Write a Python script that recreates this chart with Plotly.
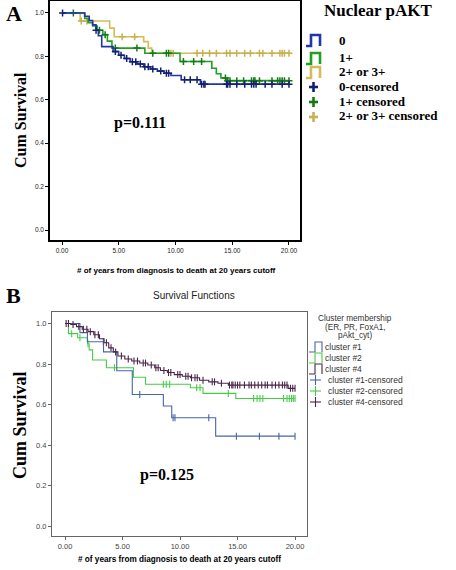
import numpy as np
import plotly.graph_objects as go

W, H = 456, 570

# ---------------- Panel A data: Nuclear pAKT ----------------
a_names = ["0", "1+", "2+ or 3+"]
a_colors = ["#2236A8", "#22A022", "#D2BC5C"]
a_mark_colors = ["#14206E", "#137A13", "#C8B050"]

a0_t = [0, 2.0, 2.4, 2.7, 3.0, 3.2, 3.5, 4.5, 5.0, 5.5, 6.0, 6.6, 7.2, 7.8, 8.4, 9.0, 9.6, 10.5, 12.2]
a0_s = [1.0, 0.985, 0.965, 0.945, 0.92, 0.895, 0.845, 0.822, 0.805, 0.79, 0.775, 0.765, 0.752,
        0.742, 0.732, 0.722, 0.712, 0.692, 0.672]
a0_c = [0.05, 3.0, 4.7, 5.2, 5.7, 6.2, 6.5, 6.9, 7.3, 7.6, 8.0, 8.7, 9.2, 9.4, 10.8, 11.3, 11.9,
        12.3, 12.5, 12.6, 14.5, 14.6, 14.8, 15.4, 16.1, 16.7, 16.9, 17.1, 17.9, 18.5, 19.4, 20.0]

a1_t = [0, 2.0, 2.3, 2.7, 3.1, 3.6, 4.0, 4.4, 7.3, 10.4, 13.2, 13.6, 14.0, 14.5]
a1_s = [1.0, 0.975, 0.955, 0.94, 0.92, 0.9, 0.87, 0.838, 0.814, 0.776, 0.745, 0.72, 0.7, 0.688]
a1_c = [1.0, 3.3, 3.8, 4.7, 6.6, 8.0, 9.2, 9.4, 10.7, 11.6, 12.3, 14.4, 14.6, 14.8, 15.4, 16.0,
        16.7, 16.9, 17.0, 17.4, 18.5, 19.0, 19.2, 19.4, 19.6, 20.0]

a2_t = [0, 1.6, 4.2, 4.6, 7.2, 7.6, 7.9]
a2_s = [1.0, 0.963, 0.93, 0.89, 0.868, 0.838, 0.814]
a2_c = [1.7, 2.2, 5.3, 6.4, 9.6, 9.8, 11.9, 12.4, 13.0, 13.6, 14.5, 14.8, 15.4, 16.1, 16.6,
        17.4, 17.7, 18.5, 19.2, 19.4, 19.6, 20.0]

# ---------------- Panel B data: Cluster membership ----------------
b_names = ["cluster #1", "cluster #2", "cluster #4"]
b_colors = ["#4A64A6", "#44CC44", "#4A2548"]

b1_t = [0, 1.3, 1.95, 3.35, 4.5, 5.85, 8.55, 9.28, 13.1]
b1_s = [1.0, 0.955, 0.91, 0.86, 0.767, 0.65, 0.593, 0.535, 0.444]
b1_c = [3.33, 6.5, 9.4, 9.56, 12.5, 14.9, 16.9, 18.6, 20.0]

b2_t = [0, 0.3, 1.1, 1.95, 2.1, 2.4, 3.6, 5.95, 7.0, 10.9, 12.0, 14.85]
b2_s = [1.0, 0.95, 0.93, 0.9, 0.87, 0.82, 0.782, 0.735, 0.70, 0.683, 0.655, 0.63]
b2_c = [0.58, 1.3, 2.0, 4.3, 8.55, 8.8, 9.1, 11.45, 11.74, 14.2, 16.4, 16.7, 16.95, 17.2,
        19.0, 19.3, 19.5, 19.7, 19.85, 20.0]

b4_t = [0, 0.5, 1.0, 1.5, 2.0, 2.5, 3.0, 3.4, 3.8, 4.2, 4.6, 5.2, 5.8, 6.5, 7.2, 7.8, 8.3, 8.9,
        9.5, 10.2, 10.9, 11.7, 12.5, 13.3, 14.2, 19.4]
b4_s = [1.0, 0.995, 0.985, 0.972, 0.96, 0.945, 0.925, 0.905, 0.88, 0.86, 0.84, 0.825, 0.815,
        0.805, 0.795, 0.782, 0.768, 0.758, 0.748, 0.74, 0.732, 0.72, 0.712, 0.705, 0.696, 0.68]
b4_c = [0.1, 0.3, 0.7, 1.2, 1.6, 1.9, 2.2, 2.6, 2.9, 3.6, 4.0, 4.4, 4.9, 5.5, 6.0, 6.3, 6.8,
        7.0, 7.5, 7.9, 8.1, 8.6, 9.0, 9.2, 9.8, 10.0, 10.5, 10.7, 11.0, 11.3, 11.5, 12.0, 12.8,
        13.0, 13.6, 14.3, 14.5, 14.6, 14.8, 15.0, 15.2, 15.6, 16.0, 16.2, 16.5, 16.8, 17.1, 17.4,
        17.6, 18.0, 18.3, 18.6, 18.9, 19.1, 19.3, 19.6, 19.8, 20.0]

x_ticks = [0, 5, 10, 15, 20]
x_tick_labels = ["0.00", "5.00", "10.00", "15.00", "20.00"]
y_ticks = [0.0, 0.2, 0.4, 0.6, 0.8, 1.0]
y_tick_labels = ["0.0", "0.2", "0.4", "0.6", "0.8", "1.0"]


def step_value(t, s, c):
    idx = np.searchsorted(np.asarray(t), np.asarray(c), side="right") - 1
    return np.asarray(s)[idx]


def px(x):
    return x / W


def py(y):
    return 1 - y / H


fig = go.Figure()


def add_km(t, s, c, color, mcolor, xa, ya, lw, msym, msize, mlw):
    end = max(max(c), max(t))
    xs = list(t) + [end]
    ys = list(s) + [s[-1]]
    fig.add_trace(go.Scatter(x=xs, y=ys, mode="lines", line=dict(color=color, width=lw, shape="hv"),
                             xaxis=xa, yaxis=ya, showlegend=False, hoverinfo="skip"))
    fig.add_trace(go.Scatter(x=c, y=step_value(t, s, c), mode="markers",
                             marker=dict(symbol=msym, size=msize, color=mcolor,
                                         line=dict(color=mcolor, width=mlw)),
                             xaxis=xa, yaxis=ya, showlegend=False, hoverinfo="skip"))


for (t, s, c), col, mcol in zip([(a0_t, a0_s, a0_c), (a1_t, a1_s, a1_c), (a2_t, a2_s, a2_c)][::-1],
                                a_colors[::-1], a_mark_colors[::-1]):
    add_km(t, s, c, col, mcol, "x", "y", 1.6, "cross-thin", 5, 1.5)

for (t, s, c), col in zip([(b2_t, b2_s, b2_c), (b1_t, b1_s, b1_c), (b4_t, b4_s, b4_c)],
                          [b_colors[1], b_colors[0], b_colors[2]]):
    add_km(t, s, c, col, col, "x2", "y2", 1.1, "line-ns", 5, 1.1)

# axes
ax_a = dict(range=[-1.057, 20.97], tickvals=x_ticks, ticktext=x_tick_labels, showline=True,
            linecolor="black", linewidth=1.5, mirror=True, ticks="outside", ticklen=3,
            tickcolor="black", showgrid=False, zeroline=False,
            tickfont=dict(family="Liberation Sans", size=6.5, color="#222"),
            domain=[px(50), px(300)])
ay_a = dict(range=[-0.046, 1.055], tickvals=y_ticks, ticktext=y_tick_labels, showline=True,
            linecolor="black", linewidth=1.5, mirror=True, ticks="outside", ticklen=3,
            tickcolor="black", showgrid=False, zeroline=False,
            tickfont=dict(family="Liberation Sans", size=6.5, color="#222"),
            domain=[py(240), py(1)])
ax_b = dict(range=[-1.13, 21.04], tickvals=x_ticks, ticktext=x_tick_labels, showline=True,
            linecolor="#666", linewidth=1, mirror=True, ticks="outside", ticklen=3,
            tickcolor="#666", showgrid=False, zeroline=False,
            tickfont=dict(family="Liberation Sans", size=7.5, color="#444"),
            domain=[px(52), px(307)], anchor="y2")
ay_b = dict(range=[-0.049, 1.057], tickvals=y_ticks, ticktext=y_tick_labels, showline=True,
            linecolor="#666", linewidth=1, mirror=True, ticks="outside", ticklen=3,
            tickcolor="#666", showgrid=False, zeroline=False,
            tickfont=dict(family="Liberation Sans", size=7.5, color="#444"),
            domain=[py(536), py(312)], anchor="x2")

ann = []
shapes = []


def text(x, y, s, size, family="Liberation Serif", bold=True, color="black", xanchor="left",
         angle=0):
    ann.append(dict(x=px(x), y=py(y), xref="paper", yref="paper", text=f"<b>{s}</b>" if bold else s,
                    showarrow=False, xanchor=xanchor, yanchor="middle", textangle=angle,
                    font=dict(family=family, size=size, color=color)))


# Panel A texts
text(4, 14, "A", 22)
text(20, 120, "Cum Survival", 16, xanchor="center", angle=-90)
text(112, 123, "p=0.111", 16)
text(176, 271, "# of years from diagnosis to death at 20 years cutoff", 8, family="Liberation Sans",
     xanchor="center")
text(378, 11, "Nuclear pAKT", 17, xanchor="center")
a_leg_y = [40, 58, 72]
for name, col, yy in zip(a_names, a_colors, a_leg_y):
    shapes.append(dict(type="path", xref="paper", yref="paper",
                       path=f"M {px(306)},{py(yy+6)} L {px(311)},{py(yy+6)} L {px(311)},{py(yy-5)} "
                            f"L {px(320)},{py(yy-5)} L {px(320)},{py(yy+6)}",
                       line=dict(color=col, width=2.6)))
    text(337, yy, name, 13)
a_leg_cy = [86, 101, 116]
for name, col, yy in zip(a_names, a_mark_colors, a_leg_cy):
    shapes.append(dict(type="line", xref="paper", yref="paper", x0=px(309), x1=px(318),
                       y0=py(yy + 1), y1=py(yy + 1), line=dict(color=col, width=2.6)))
    shapes.append(dict(type="line", xref="paper", yref="paper", x0=px(313.5), x1=px(313.5),
                       y0=py(yy - 4), y1=py(yy + 6), line=dict(color=col, width=2.6)))
    label = "0-censored" if name == "0" else f"{name} censored"
    text(337, yy, label, 13)

# Panel B texts
text(4, 295, "B", 22)
text(194, 295, "Survival Functions", 10, family="Liberation Sans", bold=False, color="#222",
     xanchor="center")
text(20, 425, "Cum Survival", 18, xanchor="center", angle=-90)
text(138, 475, "p=0.125", 16)
text(179, 559, "# of years from diagnosis to death at 20 years cutoff", 8.2, family="Liberation Sans",
     xanchor="center")
for s_, yy in zip(["Cluster membership", "(ER, PR, FoxA1,", "pAkt_cyt)"], [318, 327, 336]):
    text(355, yy, s_, 8.2, family="Liberation Sans", bold=False, color="#333", xanchor="center")
b_leg_y = [347, 358, 369]
for name, col, yy in zip(b_names, b_colors, b_leg_y):
    shapes.append(dict(type="path", xref="paper", yref="paper",
                       path=f"M {px(309)},{py(yy+5)} L {px(315)},{py(yy+5)} L {px(315)},{py(yy-5)} "
                            f"L {px(322)},{py(yy-5)} L {px(322)},{py(yy+5)}",
                       line=dict(color=col, width=1.1)))
    text(323, yy, name, 8.5, family="Liberation Sans", bold=False, color="#333")
b_leg_cy = [380, 391, 402]
for name, col, yy in zip(b_names, b_colors, b_leg_cy):
    shapes.append(dict(type="line", xref="paper", yref="paper", x0=px(310), x1=px(321),
                       y0=py(yy), y1=py(yy), line=dict(color=col, width=1.1)))
    shapes.append(dict(type="line", xref="paper", yref="paper", x0=px(315.5), x1=px(315.5),
                       y0=py(yy - 5), y1=py(yy + 5), line=dict(color=col, width=1.1)))
    text(326, yy, f"{name}-censored", 8.5, family="Liberation Sans", bold=False, color="#333")

fig.update_layout(width=W, height=H, margin=dict(l=0, r=0, t=0, b=0), paper_bgcolor="white",
                  plot_bgcolor="white", xaxis=ax_a, yaxis=ay_a, xaxis2=ax_b, yaxis2=ay_b,
                  annotations=ann, shapes=shapes, showlegend=False)
fig.write_html("out.html", config={"displayModeBar": False},
               post_script="document.body.style.margin='0';document.body.style.overflow='hidden';")
